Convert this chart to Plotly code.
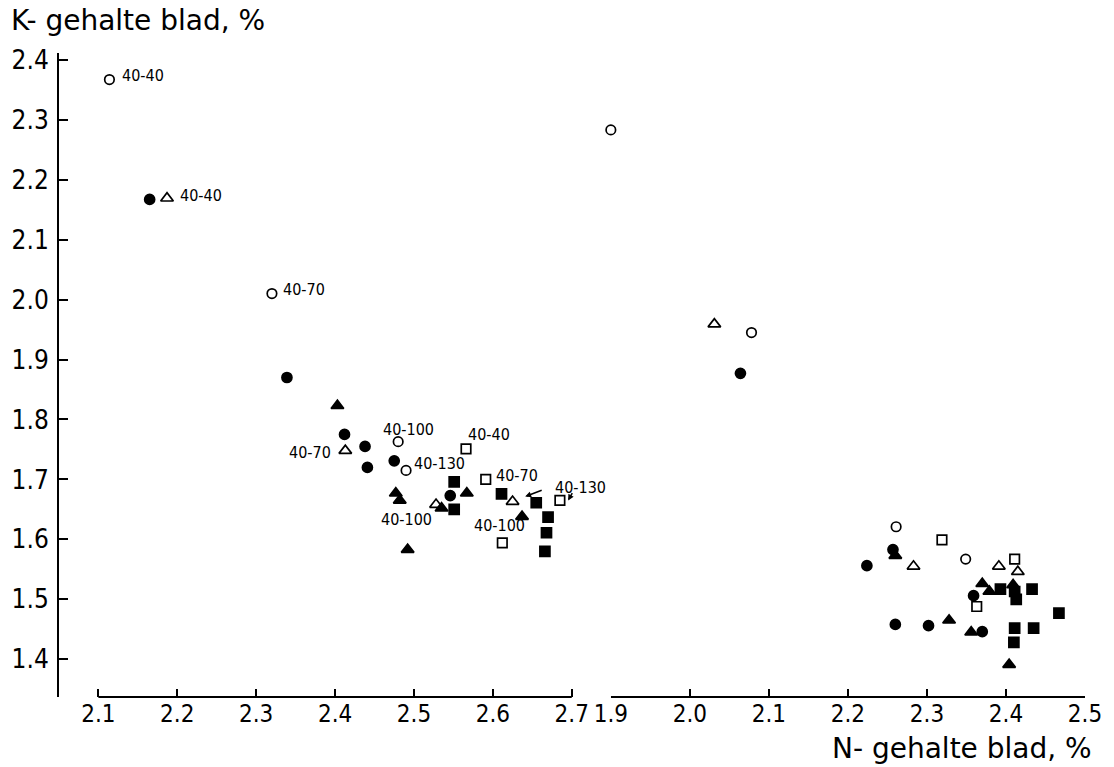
import plotly.graph_objects as go

# ---------------- data ----------------
# N = N-gehalte blad (%), K = K-gehalte blad (%), panel: "L" = left axis (2.1-2.7), "R" = right axis (1.9-2.5)
open_circle_N = [2.114, 2.320, 2.480, 2.490, 1.900, 2.078, 2.261, 2.349]
open_circle_K = [2.367, 2.010, 1.763, 1.715, 2.283, 1.945, 1.621, 1.567]
open_circle_panel = ["L", "L", "L", "L", "R", "R", "R", "R"]

filled_circle_N = [2.165, 2.339, 2.412, 2.438, 2.441, 2.475, 2.546,
                   2.064, 2.224, 2.257, 2.359, 2.260, 2.302, 2.370]
filled_circle_K = [2.167, 1.870, 1.775, 1.755, 1.720, 1.731, 1.673,
                   1.877, 1.556, 1.583, 1.506, 1.458, 1.456, 1.446]
filled_circle_panel = ["L"] * 7 + ["R"] * 7

open_triangle_N = [2.187, 2.413, 2.528, 2.625, 2.031, 2.283, 2.391, 2.415]
open_triangle_K = [2.169, 1.748, 1.658, 1.663, 1.959, 1.555, 1.555, 1.546]
open_triangle_panel = ["L", "L", "L", "L", "R", "R", "R", "R"]

filled_triangle_N = [2.403, 2.477, 2.482, 2.492, 2.535, 2.567, 2.637,
                     2.260, 2.370, 2.379, 2.409, 2.328, 2.356, 2.404]
filled_triangle_K = [1.823, 1.677, 1.665, 1.583, 1.652, 1.677, 1.638,
                     1.573, 1.526, 1.513, 1.524, 1.465, 1.445, 1.391]
filled_triangle_panel = ["L"] * 7 + ["R"] * 7

open_square_N = [2.566, 2.591, 2.685, 2.612, 2.319, 2.411, 2.363]
open_square_K = [1.751, 1.700, 1.665, 1.594, 1.599, 1.567, 1.488]
open_square_panel = ["L", "L", "L", "L", "R", "R", "R"]

filled_square_N = [2.551, 2.551, 2.611, 2.655, 2.670, 2.668, 2.666,
                   2.393, 2.411, 2.413, 2.433, 2.467, 2.411, 2.435, 2.410]
filled_square_K = [1.696, 1.650, 1.676, 1.661, 1.637, 1.611, 1.580,
                   1.517, 1.513, 1.500, 1.517, 1.477, 1.452, 1.452, 1.428]
filled_square_panel = ["L"] * 7 + ["R"] * 8

# point labels (left panel)
label_text = ["40-40", "40-40", "40-70", "40-70", "40-100", "40-130",
              "40-100", "40-40", "40-70", "40-130", "40-100"]
label_N = [2.127, 2.201, 2.332, 2.398, 2.4585, 2.497, 2.4556, 2.566, 2.601, 2.6765, 2.574]
label_K = [2.374, 2.174, 2.0175, 1.745, 1.783, 1.726, 1.633, 1.775, 1.707, 1.687, 1.623]
label_align = ["left", "left", "left", "right", "left", "left",
               "left", "left", "left", "left", "left"]

# arrows (tips) in left panel
arrow_N = [2.641, 2.6954]
arrow_K = [1.6713, 1.6647]

x_left_ticks = [2.1, 2.2, 2.3, 2.4, 2.5, 2.6, 2.7]
x_right_ticks = [1.9, 2.0, 2.1, 2.2, 2.3, 2.4, 2.5]
y_ticks = [1.4, 1.5, 1.6, 1.7, 1.8, 1.9, 2.0, 2.1, 2.2, 2.3, 2.4]

# ---------------- figure ----------------
FONT = "DejaVu Sans Condensed, DejaVu Sans, sans-serif"
TICKFONT = "DejaVu Sans Condensed, DejaVu Sans, sans-serif"
TITLEFONT = "DejaVu Sans, sans-serif"
W, H = 1114, 767
ML, MR, MT, MB = 58.5, 21.2, 52.7, 69.7
plot_w = W - ML - MR
plot_h = H - MT - MB

fig = go.Figure()

series = [
    (open_circle_N, open_circle_K, open_circle_panel, "circle-open", 9.5),
    (filled_circle_N, filled_circle_K, filled_circle_panel, "circle", 10),
    (open_triangle_N, open_triangle_K, open_triangle_panel, "triangle-up-open", 11),
    (filled_triangle_N, filled_triangle_K, filled_triangle_panel, "triangle-up", 11),
    (open_square_N, open_square_K, open_square_panel, "square-open", 9.5),
    (filled_square_N, filled_square_K, filled_square_panel, "square", 10),
]

for N, K, P, sym, sz in series:
    for pan, xa in (("L", "x"), ("R", "x2")):
        xs = [n for n, p in zip(N, P) if p == pan]
        ys = [k for k, p in zip(K, P) if p == pan]
        if not xs:
            continue
        fig.add_trace(go.Scatter(
            x=xs, y=ys, mode="markers", xaxis=xa, yaxis="y", cliponaxis=False,
            marker=dict(symbol=sym, size=sz, color="black",
                        line=dict(color="black", width=1.7)),
            showlegend=False, hoverinfo="x+y"))

# x-axis ranges: left panel extends slightly beyond the 2.1-2.7 baseline
x_left_edge_px = 600.0
left_px_per_unit = 795.3
left_range = [2.1 - (98.2 - ML) / left_px_per_unit,
              2.1 + (x_left_edge_px - 98.2) / left_px_per_unit]
left_domain = [0, (x_left_edge_px - ML) / plot_w]
right_domain = [(614.8 - ML) / plot_w, 1]

axis_common = dict(ticks="inside", tickwidth=2, tickcolor="black",
                   showgrid=False, zeroline=False, tickformat=".1f")

fig.update_layout(
    width=W, height=H, autosize=False,
    margin=dict(l=ML, r=MR, t=MT, b=MB, pad=0),
    plot_bgcolor="white", paper_bgcolor="white",
    font=dict(family=FONT, color="black"),
    xaxis=dict(domain=left_domain, range=left_range, tickvals=x_left_ticks,
               showline=False, anchor="y", ticklen=8,
               tickfont=dict(family=TICKFONT, size=24, color="black"), **axis_common),
    xaxis2=dict(domain=right_domain, range=[1.9, 2.5], tickvals=x_right_ticks,
                showline=False, anchor="y", ticklen=8,
                tickfont=dict(family=TICKFONT, size=24, color="black"), **axis_common),
    yaxis=dict(range=[1.337, 2.4113], tickvals=y_ticks,
               showline=True, linewidth=2, linecolor="black", anchor="x",
               ticklen=9, ticklabelstandoff=3,
               tickfont=dict(family=TICKFONT, size=26, color="black"), **axis_common),
)

# axis baselines
fig.add_shape(type="line", xref="x", yref="paper", x0=2.1, x1=2.7, y0=0, y1=0,
              line=dict(color="black", width=2))
fig.add_shape(type="line", xref="x2", yref="paper", x0=1.9, x1=2.5, y0=0, y1=0,
              line=dict(color="black", width=2))

# point labels
for t, n, k, a in zip(label_text, label_N, label_K, label_align):
    fig.add_annotation(x=n, y=k, xref="x", yref="y", text=t, showarrow=False,
                       xanchor=a, yanchor="middle",
                       font=dict(family=FONT, size=16, color="black"))

# arrows
arrow_offsets = [(18, -7), (5, -9)]
for n, k, (ax, ay) in zip(arrow_N, arrow_K, arrow_offsets):
    fig.add_annotation(x=n, y=k, xref="x", yref="y", text="", showarrow=True,
                       ax=ax, ay=ay, arrowhead=2, arrowsize=0.8, arrowwidth=1.5,
                       arrowcolor="black", standoff=0)

# axis titles
fig.add_annotation(text="K- gehalte blad, %", xref="paper", yref="paper",
                   x=(8 - ML) / plot_w, y=(H - MB - 20) / plot_h,
                   xanchor="left", yanchor="middle", showarrow=False,
                   font=dict(family=TITLEFONT, size=28, color="black"))
fig.add_annotation(text="N- gehalte blad, %", xref="paper", yref="paper",
                   x=(1102 - ML) / plot_w, y=(H - MB - 749) / plot_h,
                   xanchor="right", yanchor="middle", showarrow=False,
                   font=dict(family=TITLEFONT, size=28, color="black"))

fig.write_html("out.html", config={"displayModeBar": False},
               post_script="document.body.style.margin='0';")
